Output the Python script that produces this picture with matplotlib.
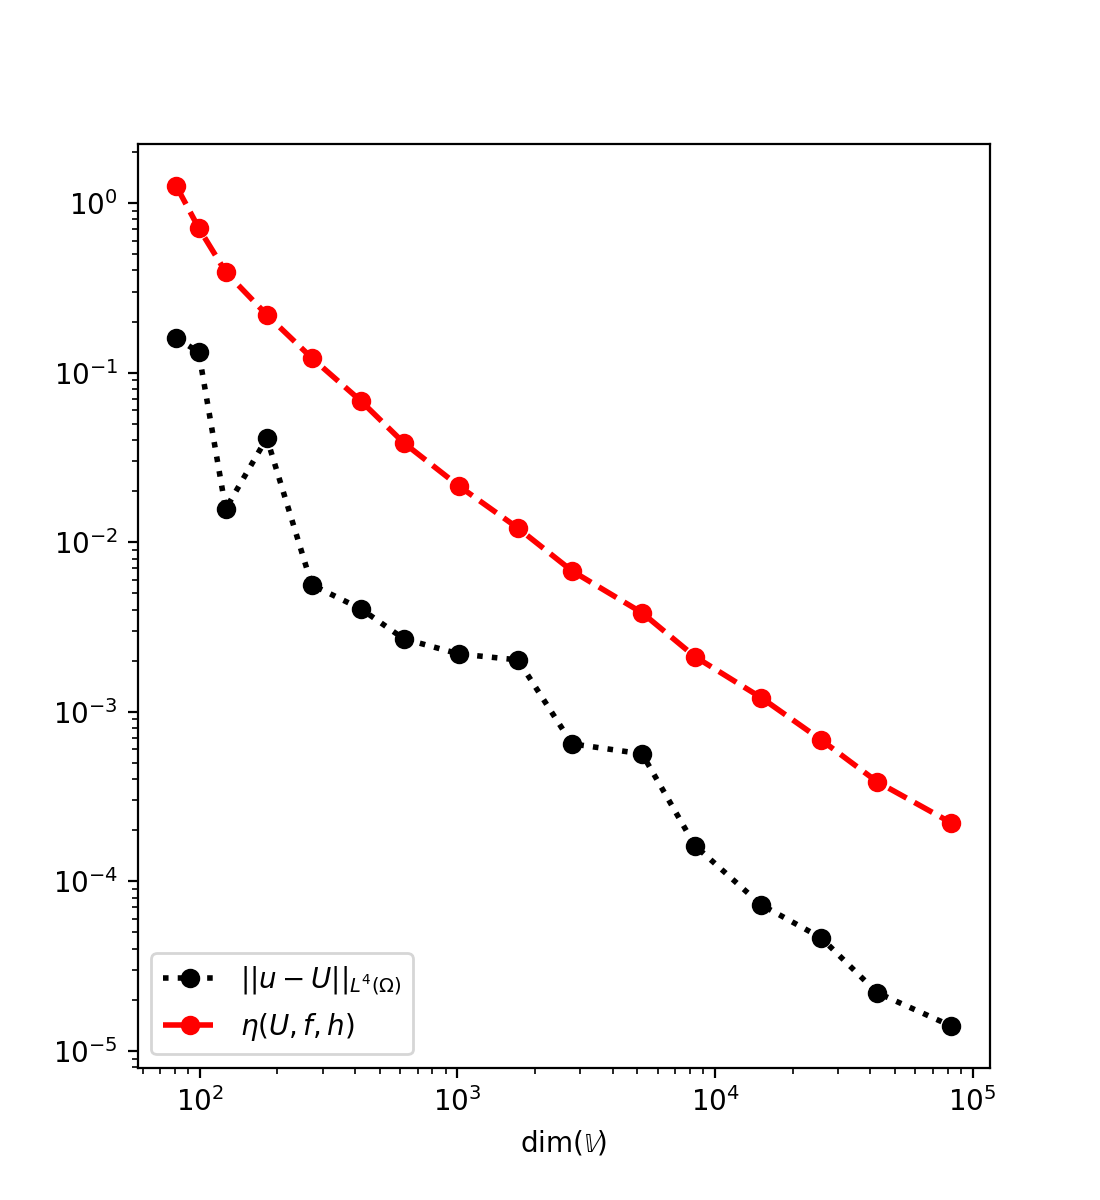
import matplotlib
matplotlib.use("Agg")
import matplotlib.pyplot as plt

dofs = [81, 99, 126, 182, 272, 422, 619, 1014, 1718, 2786, 5210, 8360, 15100, 25800, 42600, 82600]
err_l4 = [0.160, 0.132, 0.0157, 0.0411, 0.0056, 0.00404, 0.00269, 0.00219, 0.00202,
          0.000646, 0.000564, 0.000162, 7.26e-5, 4.64e-5, 2.2e-5, 1.40e-5]
estimator = [1.26, 0.713, 0.392, 0.219, 0.122, 0.068, 0.0385, 0.0214, 0.0121, 0.00676,
             0.00383, 0.00211, 0.00121, 0.000682, 0.000386, 0.000221]

label_err = r'$||u-U||_{L^4(\Omega)}$'
label_est = r'$\eta(U,f,h)$'
xlabel = r'dim($\mathbb{V}$)'

fig, ax = plt.subplots(figsize=(5.5, 6), dpi=200)
ax.loglog(dofs, err_l4, 'o:', color='black', linewidth=2, label=label_err)
ax.loglog(dofs, estimator, 'o--', color='red', linewidth=2, label=label_est)
ax.set_xlabel(xlabel)
ax.legend(loc='lower left')
fig.savefig('out.png', dpi=200)
